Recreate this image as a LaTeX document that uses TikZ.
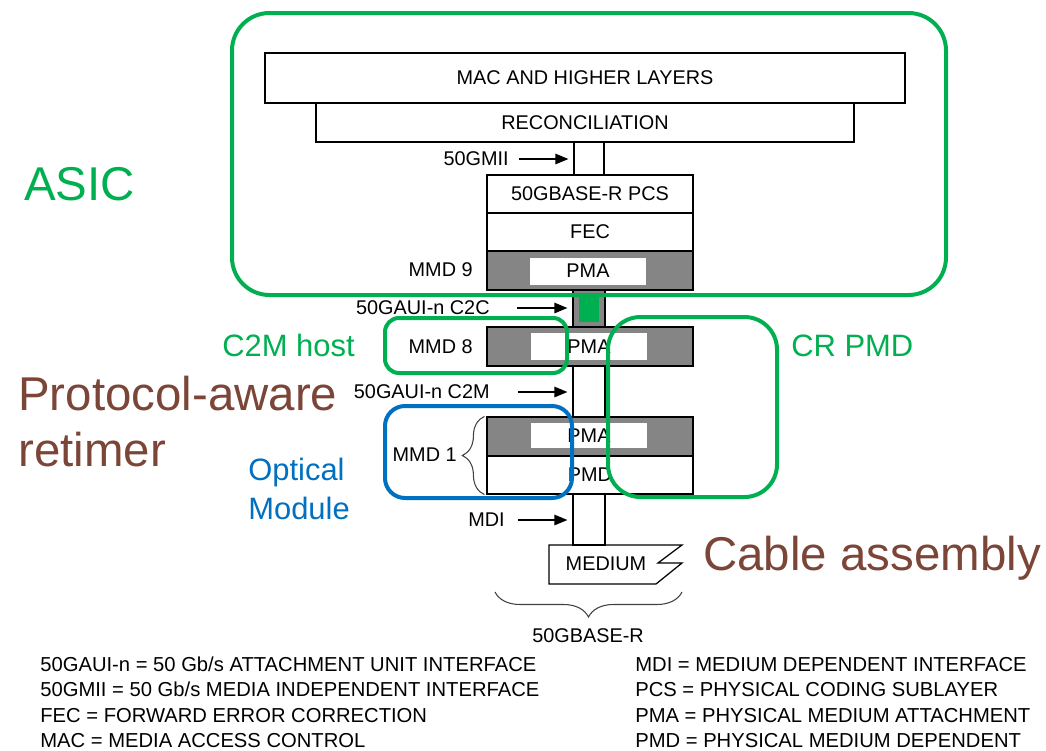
\documentclass[tikz,border=0pt]{standalone}
\usepackage{fontspec}
\setmainfont{Liberation Sans}
\usetikzlibrary{arrows.meta,decorations.pathreplacing}
\definecolor{asicgreen}{HTML}{00B050}
\definecolor{optblue}{HTML}{0070C0}
\definecolor{retbrown}{HTML}{7B4538}
\definecolor{pmagray}{HTML}{858585}

\begin{document}
\begin{tikzpicture}[x=0.02cm, y=-0.02cm,
    txt/.style={inner sep=0pt, font=\fontsize{11.3}{13}\selectfont},
    layer/.style={txt, draw, line width=0.7pt},
    sublayer/.style={layer, minimum width=4.12cm, minimum height=0.76cm},
    pmabox/.style={layer, fill=pmagray, minimum width=4.12cm, minimum height=0.78cm},
    pmatext/.style={txt, fill=white, minimum width=2.34cm, minimum height=0.54cm},
    link/.style={layer, minimum width=0.64cm},
    iflabel/.style={txt, anchor=east},
    ifarrow/.style={-{Triangle[length=2.6mm, width=2.1mm]}, line width=0.7pt, shorten >=0.1cm},
    curly/.style={decorate, line width=0.6pt, draw=black!75},
    legend/.style={anchor=base west, inner sep=0pt, font=\fontsize{11.5}{13}\selectfont},
    bigtext/.style={anchor=base west, inner sep=0pt, font=\fontsize{27}{31.7}\selectfont, align=left},
    midtext/.style={anchor=base west, inner sep=0pt, font=\fontsize{17.6}{22.1}\selectfont, align=left},
    ringline/.style={line width=0.08cm}
]
\useasboundingbox (0,0) rectangle (1046,751);

\node[layer, minimum width=12.8cm, minimum height=1cm] (mac) at (585,78) {MAC AND HIGHER LAYERS};
\node[layer, minimum width=10.76cm, minimum height=0.78cm] (recon) at (585,122.5) {RECONCILIATION};
\node[layer, minimum width=0.6cm, minimum height=0.66cm] (gmii) at (589,158.5) {};
\node[sublayer] (pcs) at (590,194) {50GBASE-R PCS};
\node[sublayer] (fec) at (590,232) {FEC};
\node[pmabox] (pma9) at (590,270.5) {};
\node[pmatext] (pma9w) at (588,271) {PMA};
\node[link, fill=pmagray, minimum height=0.74cm] (c2c) at (589,308.5) {};
\node[fill=asicgreen, inner sep=0pt, minimum width=0.4cm, minimum height=0.52cm] (c2csq) at (589,309) {};
\node[pmabox] (pma8) at (590,346.5) {};
\node[pmatext] (pma8w) at (589,346.5) {PMA};
\node[link, minimum height=1.02cm] (c2m) at (589,391.5) {};
\node[pmabox] (pma1) at (590,436.5) {};
\node[pmatext, minimum height=0.5cm] (pma1w) at (589,435.5) {PMA};
\node[sublayer] (pmd) at (590,475) {PMD};
\node[link, minimum height=1.02cm] (mdi) at (589,519.5) {};

\node[iflabel] (gmiilbl) at (509,159) {50GMII};
\node[iflabel] (mmd9) at (473,270) {MMD 9};
\node[iflabel] (c2clbl) at (490,308) {50GAUI-n C2C};
\node[iflabel] (mmd8) at (473,347) {MMD 8};
\node[iflabel] (c2mlbl) at (490,392) {50GAUI-n C2M};
\node[iflabel] (mmd1) at (457,455) {MMD 1};
\node[iflabel] (mdilbl) at (505,520) {MDI};

\coordinate (gmiitail) at (519,159);
\coordinate (c2ctail) at (517,308);
\coordinate (c2mtail) at (518,392);
\coordinate (mditail) at (518,520);
\draw[ifarrow] (gmiitail) -- (gmiitail -| gmii.west);
\draw[ifarrow] (c2ctail) -- (c2ctail -| c2c.west);
\draw[ifarrow] (c2mtail) -- (c2mtail -| c2m.west);
\draw[ifarrow] (mditail) -- (mditail -| mdi.west);

\draw[curly, decoration={brace, amplitude=0.44cm}] ([xshift=-0.04cm]pmd.south west) -- ([xshift=-0.04cm]pma1.north west);

\node[txt] (medium) at (606,564) {MEDIUM};
\draw[line width=0.7pt] (549,545) -- (682,545) -- (658,563) -- (682,563) -- (656,584) -- (549,584) -- cycle;
\draw[curly, decoration={brace, amplitude=0.5cm}] (682,592) -- (495,592);
\node[txt] (phy) at (588,636) {50GBASE-R};

\foreach \line [count=\i] in {50GAUI-n = 50 Gb/s ATTACHMENT UNIT INTERFACE, 50GMII = 50 Gb/s MEDIA INDEPENDENT INTERFACE, FEC = FORWARD ERROR CORRECTION, MAC = MEDIA ACCESS CONTROL}
    \node[legend] (lgl\i) at (40,645.5+25.5*\i) {\line};
\foreach \line [count=\i] in {MDI = MEDIUM DEPENDENT INTERFACE, PCS = PHYSICAL CODING SUBLAYER, PMA = PHYSICAL MEDIUM ATTACHMENT, PMD = PHYSICAL MEDIUM DEPENDENT}
    \node[legend] (lgr\i) at (635,645.5+25.5*\i) {\line};

\node[bigtext, text=asicgreen] (asic) at (24,200) {ASIC};
\node[bigtext, text=retbrown] (retimer) at (18,466) {Protocol-aware\\retimer};
\node[midtext, text=asicgreen] (c2mhost) at (222,356) {C2M host};
\node[midtext, text=asicgreen] (crpmd) at (791,356) {CR PMD};
\node[midtext, text=optblue] (optmod) at (248,519) {Optical\\Module};
\node[bigtext, text=retbrown] (cable) at (703,570) {Cable assembly};

\draw[ringline, asicgreen, rounded corners=0.75cm] (232,13) rectangle (946,295);
\draw[ringline, asicgreen, rounded corners=0.28cm] (385,318) rectangle (567,373);
\draw[ringline, optblue, rounded corners=0.4cm] (385,406) rectangle (572,498);
\draw[ringline, asicgreen, rounded corners=0.65cm] (608,317) rectangle (777,497);
\end{tikzpicture}
\end{document}
